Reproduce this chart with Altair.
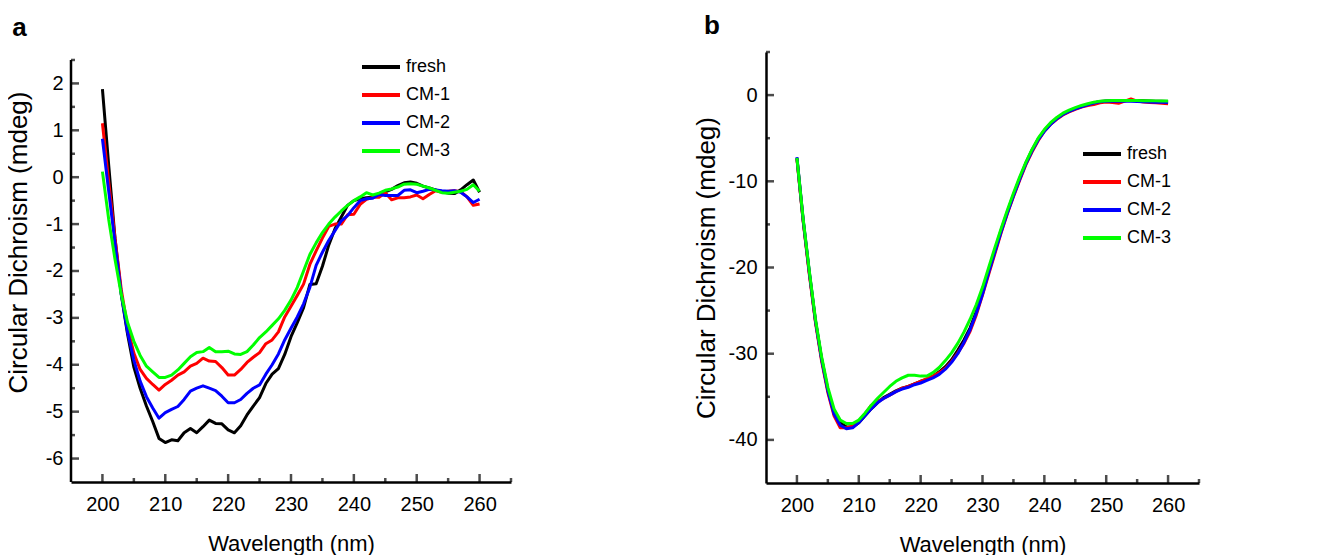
import altair as alt
import pandas as pd

FONT = "Liberation Sans"

wavelength = list(range(200, 261))
series_names = ["fresh", "CM-1", "CM-2", "CM-3"]
series_colors = ["#000000", "#ff0000", "#0000ff", "#00ff00"]

# ---- panel a values (mdeg), 200..260 nm ----
a_fresh = [1.88, 0.25, -1.30, -2.50, -3.35, -4.05, -4.50, -4.88, -5.21, -5.57,
           -5.66, -5.60, -5.62, -5.45, -5.36, -5.45, -5.32, -5.18, -5.25, -5.26,
           -5.39, -5.45, -5.30, -5.07, -4.88, -4.70, -4.40, -4.20, -4.08, -3.78,
           -3.40, -3.10, -2.78, -2.29, -2.27, -1.90, -1.45, -1.10, -0.85, -0.60,
           -0.50, -0.46, -0.44, -0.43, -0.38, -0.31, -0.26, -0.18, -0.12, -0.10,
           -0.13, -0.19, -0.23, -0.27, -0.31, -0.34, -0.35, -0.27, -0.16, -0.06,
           -0.32]
a_cm1 = [1.15, -0.10, -1.30, -2.40, -3.20, -3.75, -4.10, -4.29, -4.42, -4.54,
         -4.42, -4.33, -4.22, -4.15, -4.03, -3.97, -3.86, -3.92, -3.93, -4.06,
         -4.22, -4.22, -4.10, -3.95, -3.84, -3.74, -3.55, -3.47, -3.30, -2.98,
         -2.75, -2.52, -2.28, -1.86, -1.57, -1.30, -1.05, -1.00, -1.00, -0.80,
         -0.79, -0.58, -0.47, -0.43, -0.43, -0.33, -0.48, -0.44, -0.44, -0.42,
         -0.38, -0.46, -0.37, -0.29, -0.32, -0.30, -0.29, -0.31, -0.42, -0.60,
         -0.57]
a_cm2 = [0.82, -0.30, -1.40, -2.50, -3.30, -3.90, -4.35, -4.68, -4.92, -5.14,
         -5.02, -4.95, -4.89, -4.74, -4.56, -4.50, -4.45, -4.50, -4.55, -4.67,
         -4.81, -4.81, -4.74, -4.61, -4.50, -4.43, -4.20, -4.00, -3.77, -3.47,
         -3.22, -2.98, -2.70, -2.35, -1.88, -1.60, -1.35, -1.14, -0.93, -0.82,
         -0.65, -0.50, -0.46, -0.45, -0.37, -0.39, -0.39, -0.39, -0.28, -0.27,
         -0.33, -0.30, -0.26, -0.27, -0.29, -0.30, -0.29, -0.32, -0.42, -0.54,
         -0.47]
a_cm3 = [0.12, -0.90, -1.75, -2.50, -3.10, -3.50, -3.80, -4.03, -4.15, -4.27,
         -4.27, -4.22, -4.11, -3.97, -3.83, -3.74, -3.72, -3.63, -3.72, -3.72,
         -3.71, -3.77, -3.78, -3.72, -3.58, -3.42, -3.30, -3.16, -3.02, -2.84,
         -2.62, -2.35, -2.00, -1.65, -1.40, -1.18, -1.00, -0.85, -0.72, -0.60,
         -0.50, -0.42, -0.33, -0.38, -0.34, -0.28, -0.25, -0.21, -0.15, -0.14,
         -0.15, -0.19, -0.23, -0.28, -0.33, -0.34, -0.32, -0.30, -0.26, -0.16,
         -0.30]

# ---- panel b values (mdeg), 200..260 nm ----
b_fresh = [-7.3, -14.5, -20.6, -26.2, -30.6, -34.2, -36.8, -38.0, -38.5, -38.5,
           -38.0, -37.2, -36.4, -35.7, -35.1, -34.7, -34.3, -34.0, -33.8, -33.5,
           -33.2, -33.0, -32.6, -32.1, -31.5, -30.7, -29.6, -28.4, -27.0, -25.1,
           -22.9, -20.4, -18.0, -15.7, -13.6, -11.6, -9.7, -7.9, -6.4, -5.1,
           -4.1, -3.3, -2.7, -2.2, -1.85, -1.55, -1.3, -1.08, -0.9, -0.75,
           -0.68, -0.66, -0.65, -0.64, -0.63, -0.64, -0.66, -0.68, -0.70, -0.72,
           -0.74]
b_cm1 = [-7.4, -14.6, -20.8, -26.4, -30.9, -34.5, -37.2, -38.6, -38.6, -38.4,
         -37.9, -37.0, -36.0, -35.5, -35.2, -34.8, -34.4, -34.0, -33.8, -33.5,
         -33.2, -32.9, -32.6, -32.2, -31.7, -30.9, -29.9, -28.8, -27.4, -25.5,
         -23.2, -20.8, -18.4, -16.0, -13.8, -11.8, -9.9, -8.1, -6.6, -5.3,
         -4.2, -3.4, -2.8, -2.3, -1.95, -1.65, -1.4, -1.2, -1.1, -0.9,
         -0.8, -0.85, -0.95, -0.7, -0.45, -0.7, -0.8, -0.85, -0.9, -0.95,
         -1.0]
b_cm2 = [-7.2, -14.4, -20.5, -26.2, -30.7, -34.3, -37.0, -38.3, -38.7, -38.6,
         -38.0, -37.2, -36.4, -35.7, -35.2, -34.8, -34.4, -34.1, -33.9, -33.6,
         -33.4, -33.1, -32.8, -32.4, -31.8, -31.0, -30.0, -28.7, -27.2, -25.3,
         -23.1, -20.6, -18.2, -15.9, -13.7, -11.7, -9.8, -8.0, -6.5, -5.2,
         -4.2, -3.4, -2.75, -2.25, -1.9, -1.6, -1.35, -1.12, -0.92, -0.78,
         -0.72, -0.70, -0.70, -0.70, -0.72, -0.75, -0.78, -0.80, -0.82, -0.84,
         -0.85]
b_cm3 = [-7.3, -14.3, -20.4, -26.0, -30.4, -33.9, -36.4, -37.7, -38.1, -38.1,
         -37.7, -36.9, -36.0, -35.2, -34.5, -33.8, -33.2, -32.8, -32.5, -32.5,
         -32.6, -32.6, -32.2, -31.6, -30.8, -29.9, -28.8, -27.5, -26.0, -24.3,
         -22.3, -20.0, -17.7, -15.5, -13.4, -11.4, -9.5, -7.8, -6.3, -5.0,
         -4.0, -3.2, -2.6, -2.1, -1.75, -1.45, -1.2, -1.0, -0.82, -0.70,
         -0.65, -0.63, -0.62, -0.62, -0.63, -0.64, -0.65, -0.66, -0.67, -0.68,
         -0.68]

# ---- axes ----
x_domain = [195, 265]
x_major = [200, 210, 220, 230, 240, 250, 260]
x_minor = [205, 215, 225, 235, 245, 255, 265]

a_y_axis_span = [-6.5, 2.5]          # drawn axis line of panel a
a_y_domain = [-6.5, 2.67]            # scale domain (a little headroom above the axis)
a_y_major = [-6, -5, -4, -3, -2, -1, 0, 1, 2]
a_y_minor = [-5.5, -4.5, -3.5, -2.5, -1.5, -0.5, 0.5, 1.5, 2.5]

b_y_domain = [-45, 5]
b_y_major = [-40, -30, -20, -10, 0]
b_y_minor = [-35, -25, -15, -5, 5]

LABEL_EXPR = "(datum.value < 0 ? '-' : '') + abs(datum.value)"


def long_frame(cols):
    rows = []
    for name, vals in zip(series_names, cols):
        for w, v in zip(wavelength, vals):
            rows.append({"wavelength": w, "value": v, "series": name})
    return pd.DataFrame(rows)


def panel(df, y_domain, y_major, y_minor, letter, w, h, leg_x, leg_y,
          title_dy, title_dx, y_label_pad, y_title_pad, y_title_size,
          y_title_y=None, axis_span=None):
    xs = alt.Scale(domain=x_domain, nice=False, zero=False)
    ys = alt.Scale(domain=y_domain, nice=False, zero=False)
    y_axis_kw = dict(values=y_major, title="Circular Dichroism (mdeg)",
                     labelPadding=y_label_pad, titlePadding=y_title_pad,
                     titleFontSize=y_title_size, labelExpr=LABEL_EXPR)
    if y_title_y is not None:
        y_axis_kw["titleY"] = y_title_y
    if axis_span is not None:
        y_axis_kw["domain"] = False
    x_axis = alt.Axis(values=x_major, title="Wavelength (nm)",
                      labelPadding=12, titlePadding=19, titleFontSize=22)
    y_axis = alt.Axis(**y_axis_kw)

    lines = alt.Chart(df).mark_line(strokeWidth=3, strokeJoin="round").encode(
        x=alt.X("wavelength:Q", scale=xs, axis=x_axis),
        y=alt.Y("value:Q", scale=ys, axis=y_axis),
        color=alt.Color("series:N",
                        scale=alt.Scale(domain=series_names, range=series_colors),
                        legend=alt.Legend(title=None, orient="none",
                                          legendX=leg_x, legendY=leg_y,
                                          symbolType="stroke", symbolSize=1444,
                                          symbolStrokeWidth=4, labelFontSize=18,
                                          labelFont=FONT, labelOffset=4,
                                          padding=0, rowPadding=0, clipHeight=28,
                                          labelColor="black")),
    )

    def ticks(values, length, horizontal):
        d = pd.DataFrame({"t": values})
        if horizontal:
            return alt.Chart(d).mark_tick(orient="horizontal", size=length, thickness=2.5,
                                          color="black", xOffset=length / 2).encode(
                y=alt.Y("t:Q", scale=ys, axis=y_axis),
                x=alt.datum(x_domain[0], scale=xs, axis=x_axis))
        return alt.Chart(d).mark_tick(orient="vertical", size=length, thickness=2.5,
                                      color="black", yOffset=-length / 2).encode(
            x=alt.X("t:Q", scale=xs, axis=x_axis),
            y=alt.datum(y_domain[0], scale=ys, axis=y_axis))

    layers = [lines,
              ticks(x_major, 8, False), ticks(x_minor, 4, False),
              ticks(y_major, 8, True), ticks(y_minor, 4, True)]
    if axis_span is not None:
        span = pd.DataFrame({"y0": [axis_span[0]], "y1": [axis_span[1]]})
        layers.append(alt.Chart(span).mark_rule(strokeWidth=2.5, color="black").encode(
            x=alt.datum(x_domain[0], scale=xs, axis=x_axis),
            y=alt.Y("y0:Q", scale=ys, axis=y_axis),
            y2="y1:Q"))

    return alt.layer(*layers).properties(
        width=w, height=h,
        title=alt.TitleParams(letter, fontSize=26, fontWeight="bold", font=FONT,
                              anchor="start", frame="bounds", baseline="alphabetic",
                              offset=0, dy=title_dy, dx=title_dx, color="black"),
    )


df_a = long_frame([a_fresh, a_cm1, a_cm2, a_cm3])
df_b = long_frame([b_fresh, b_cm1, b_cm2, b_cm3])

pa = panel(df_a, a_y_domain, a_y_major, a_y_minor, "a", 440, 430, 289, 1,
           10, 7, 8, 14, 26, y_title_y=190, axis_span=a_y_axis_span)
pb = panel(df_b, b_y_domain, b_y_major, b_y_minor, "b", 433, 431, 315, 88,
           9, 11, 9, 9, 26)

chart = alt.hconcat(pa, pb, spacing=180).resolve_scale(
    color="independent").properties(
    padding={"left": -3, "top": 4, "right": 0, "bottom": 0}).configure_view(
    stroke=None).configure_axis(
    labelFont=FONT, titleFont=FONT, labelFontSize=20, labelColor="black",
    titleColor="black", titleFontWeight="normal", domainColor="black",
    domainWidth=2.5, ticks=False, tickSize=0, grid=False)

chart.save("out.html", embed_options={"renderer": "svg", "actions": False})
